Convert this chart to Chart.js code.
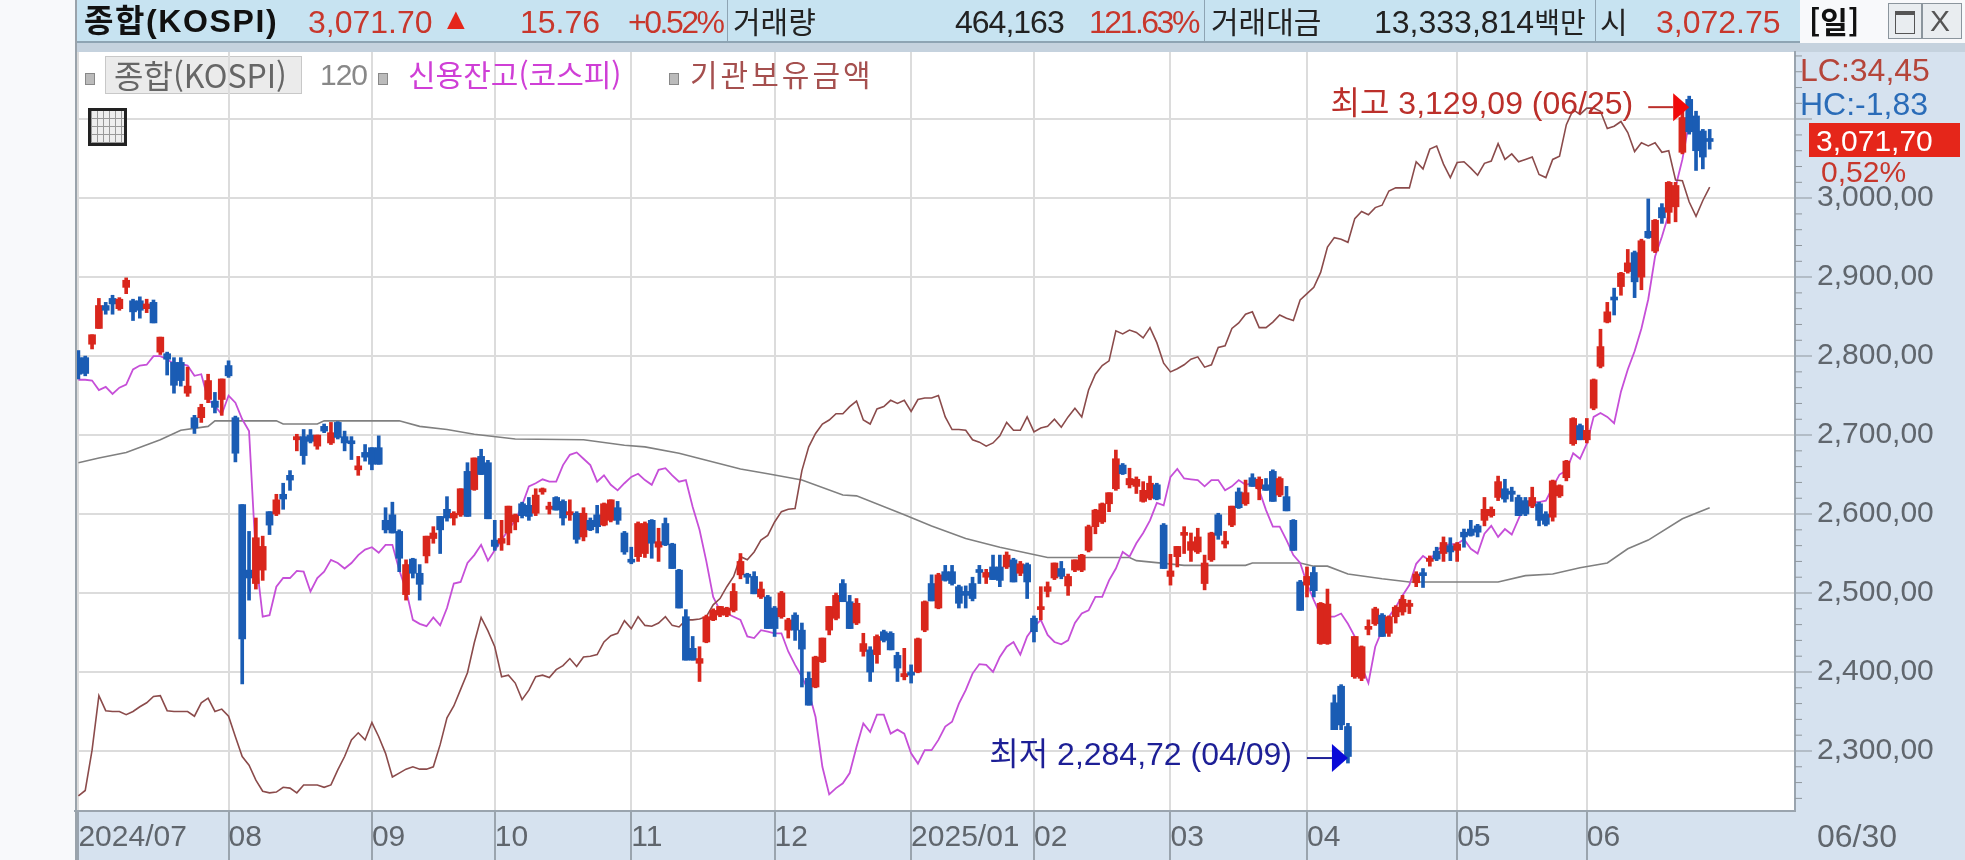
<!DOCTYPE html>
<html lang="ko">
<head>
<meta charset="utf-8">
<title>종합(KOSPI)</title>
<script src="https://cdn.jsdelivr.net/npm/chart.js@4"></script>
<style>
  html, body { margin: 0; padding: 0; background: #f8f9fb; }
  #wrap { position: relative; width: 1965px; height: 860px; overflow: hidden; filter: blur(0.6px); }
  #wrap div, #wrap span { position: absolute; }
  #chart { position: absolute; left: 0; top: 0; z-index: 2; }
  .txt { font-family: "Liberation Sans", "Noto Sans CJK KR", sans-serif; white-space: nowrap; z-index: 3; line-height: 1; }
  .kr { font-family: "Noto Sans CJK KR", sans-serif; }
  #head { left: 76px; top: 0; width: 1724px; height: 41px; background: #c7e3f1; border-bottom: 2px solid #8ea4b3; }
  #band { left: 76px; top: 43px; width: 1889px; height: 9px; background: #c5d2de; }
  #plotBg { left: 76px; top: 52px; width: 1719px; height: 759px; background: #fff; }
  #axisR { left: 1795px; top: 52px; width: 170px; height: 808px; background: #d6e2ef; }
  #axisB { left: 76px; top: 811px; width: 1719px; height: 49px; background: #d6e2ef; }
  #leftLine { left: 75px; top: 0; width: 2px; height: 860px; background: #9aa3ab; z-index: 3; }
  .sep { top: 0; width: 1px; height: 41px; background: #8ea4b3; z-index: 3; }
  .sq { width: 8px; height: 10px; background: #bbb; border: 1px solid #888; top: 73px; z-index: 3; }
  #btn { left: 105px; top: 56px; width: 195px; height: 36px; background: #ebebeb; border: 1px solid #c8c8c8; z-index: 2; }
  #gridIcon { left: 88px; top: 108px; width: 33px; height: 32px; border: 3px solid #222; background: repeating-linear-gradient(90deg, #999 0 1px, transparent 1px 6px), repeating-linear-gradient(0deg, #999 0 1px, #eee 1px 8px); z-index: 3; }
  #priceBox { left: 1809px; top: 123px; width: 151px; height: 34px; background: #e5261a; z-index: 3; }
  .win { top: 3px; height: 34px; background: #e9edf0; border: 1px solid #8b959d; z-index: 3; }
</style>
</head>
<body>
<div id="wrap">
  <div id="head"></div>
  <div id="band"></div>
  <div id="plotBg"></div>
  <div id="axisR"></div>
  <div id="axisB"></div>
  <div id="leftLine"></div>

  <span class="txt" style="left:84px;top:5px;font-size:32px;font-weight:bold;letter-spacing:1.6px;color:#111">종합(KOSPI)</span>
  <span class="txt" style="left:308px;top:6px;font-size:32px;color:#c8372c">3,071.70</span>
  <span class="txt" style="left:441px;top:4px;font-size:30px;color:#e5261a">▲</span>
  <span class="txt" style="left:520px;top:6px;font-size:32px;color:#c8372c">15.76</span>
  <span class="txt" style="left:628px;top:6px;font-size:32px;letter-spacing:-2.5px;color:#c8372c">+0.52%</span>
  <div class="sep" style="left:727px"></div>
  <span class="txt kr" style="left:733px;top:5px;font-size:30px;color:#222">거래량</span>
  <span class="txt" style="left:955px;top:6px;font-size:32px;letter-spacing:-1px;color:#222">464,163</span>
  <span class="txt" style="left:1089px;top:6px;font-size:32px;letter-spacing:-2.5px;color:#c8372c">121.63%</span>
  <div class="sep" style="left:1204px"></div>
  <span class="txt kr" style="left:1211px;top:5px;font-size:30px;color:#222">거래대금</span>
  <span class="txt" style="left:1374px;top:6px;font-size:32px;color:#222">13,333,814<span class="kr" style="position:static;font-size:28px">백만</span></span>
  <div class="sep" style="left:1595px"></div>
  <span class="txt kr" style="left:1600px;top:5px;font-size:30px;color:#222">시</span>
  <span class="txt" style="left:1656px;top:6px;font-size:32px;color:#c8372c">3,072.75</span>
  <span class="txt kr" style="left:1809px;top:5px;font-size:30px;font-weight:bold;color:#111">[일]</span>
  <div class="win" style="left:1888px;width:32px"></div>
  <div class="win" style="left:1922px;width:38px"></div>
  <div style="left:1895px;top:11px;width:18px;height:18px;border:1px solid #555;border-top:4px solid #555;z-index:4"></div>
  <span class="txt" style="left:1930px;top:6px;font-size:30px;color:#555;z-index:4">X</span>

  <div class="sq" style="left:85px"></div>
  <div id="btn"></div>
  <span class="txt kr" style="left:114px;top:58px;font-size:32px;color:#666">종합(KOSPI)</span>
  <span class="txt" style="left:320px;top:60px;font-size:30px;letter-spacing:-1px;color:#888">120</span>
  <div class="sq" style="left:378px"></div>
  <span class="txt kr" style="left:408px;top:58px;font-size:30px;color:#cf3fd6">신용잔고(코스피)</span>
  <div class="sq" style="left:669px"></div>
  <span class="txt kr" style="left:690px;top:58px;font-size:30px;letter-spacing:3px;color:#a5504f">기관보유금액</span>
  <div id="gridIcon"></div>

  <span class="txt" style="left:1800px;top:54px;font-size:32px;color:#b5453a">LC:34,45</span>
  <span class="txt" style="left:1800px;top:88px;font-size:32px;color:#2a6cb8">HC:-1,83</span>
  <div id="priceBox"></div>
  <span class="txt" style="left:1816px;top:126px;font-size:30px;color:#fff">3,071,70</span>
  <span class="txt" style="left:1821px;top:157px;font-size:30px;color:#c8372c">0,52%</span>
  <span class="txt" style="left:1817px;top:820px;font-size:32px;color:#60666d">06/30</span>

  <canvas id="chart" width="1965" height="860"></canvas>
</div>

<script>
// Month ticks on the bottom axis
const monthStarts = [0, 22, 43, 61, 81, 102, 122, 140, 160, 180, 202, 221];
const monthLabels = ["2024/07", "08", "09", "10", "11", "12", "2025/01", "02", "03", "04", "05", "06"];
const priceTicks = [2300, 2400, 2500, 2600, 2700, 2800, 2900, 3000, 3100];
const slotCount = 252; // the right end of the plot stays empty

// Daily candles
const opens = [
  2798,2798,2815,2835,2864,2873,2860,2887,2870,2870, 2860,2868,2805,2803,2792,2792,2753,2722,2722,2745,
  2743,2745,2788,2722,2612,2529,2512,2529,2603,2600, 2625,2649,2694,2698,2700,2686,2711,2690,2716,2698,
  2692,2656,2678,2684,2684,2592,2599,2578,2498,2543, 2525,2547,2569,2597,2606,2595,2599,2654,2631,2673,
  2665,2567,2563,2576,2590,2613,2611,2601,2628,2606, 2621,2616,2599,2601,2571,2592,2599,2586,2592,2608,
  2576,2542,2546,2550,2592,2558,2588,2562,2529,2470, 2430,2411,2438,2466,2472,2472,2478,2523,2523,2521,
  2495,2495,2481,2470,2453,2472,2453,2392,2381,2413, 2453,2468,2512,2489,2462,2426,2428,2422,2451,2449,
  2421,2394,2400,2400,2453,2512,2481,2527,2527,2508, 2502,2512,2529,2520,2533,2533,2533,2542,2525,2536,
  2468,2479,2502,2519,2531,2509,2529,2529,2554,2584, 2590,2613,2632,2662,2637,2635,2616,2620,2637,2586,
  2521,2546,2573,2554,2552,2512,2542,2599,2562,2586, 2628,2613,2646,2632,2637,2654,2624,2622,2592,2514,
  2510,2526,2436,2436,2361,2382,2331,2394,2392,2454, 2461,2472,2449,2470,2476,2483,2513,2524,2540,2553,
  2550,2560,2554,2577,2581,2585,2592,2598,2621,2632, 2629,2621,2617,2610,2613,2600,2596,2623,2646,2689,
  2712,2694,2734,2787,2843,2873,2888,2907,2931,2900, 2958,2933,2988,2982,2989,3058,3125,3104,3085,3072.75
];
const highs = [
  2807,2800,2827,2873,2868,2877,2874,2899,2872,2875, 2872,2871,2824,2805,2798,2798,2786,2725,2739,2777,
  2754,2771,2794,2724,2612,2578,2595,2572,2603,2625, 2639,2655,2701,2707,2707,2700,2714,2716,2717,2705,
  2698,2673,2688,2684,2699,2608,2615,2580,2542,2544, 2536,2572,2584,2597,2622,2603,2632,2665,2671,2682,
  2668,2592,2592,2610,2600,2615,2621,2632,2633,2615, 2622,2618,2618,2603,2608,2595,2611,2614,2618,2616,
  2578,2558,2590,2590,2593,2582,2595,2563,2530,2479, 2445,2432,2472,2480,2483,2482,2512,2550,2525,2527,
  2514,2497,2483,2502,2468,2475,2462,2400,2420,2443, 2483,2500,2517,2497,2493,2449,2432,2447,2453,2451,
  2425,2430,2409,2443,2490,2523,2525,2535,2535,2510, 2509,2520,2535,2530,2548,2548,2552,2544,2540,2538,
  2471,2508,2514,2538,2540,2524,2542,2549,2586,2606, 2614,2627,2681,2664,2658,2647,2641,2648,2639,2588,
  2549,2559,2584,2576,2582,2548,2577,2601,2578,2610, 2633,2643,2651,2647,2645,2656,2647,2635,2593,2516,
  2533,2533,2488,2505,2371,2384,2335,2445,2433,2466, 2482,2474,2471,2484,2497,2491,2527,2531,2547,2558,
  2571,2570,2564,2581,2592,2587,2621,2609,2648,2644, 2634,2624,2621,2634,2615,2603,2643,2637,2668,2722,
  2714,2721,2771,2834,2868,2886,2906,2935,2933,2948, 2999,2973,2993,3021,3020,3112,3129.09,3110,3087,3087
];
const lows = [
  2771,2775,2809,2835,2853,2853,2858,2879,2845,2848, 2855,2842,2802,2776,2753,2762,2749,2702,2716,2741,
  2728,2725,2773,2666,2385,2491,2505,2516,2574,2598, 2606,2630,2680,2663,2690,2682,2703,2688,2695,2680,
  2669,2649,2667,2656,2663,2576,2576,2527,2491,2519, 2491,2538,2563,2550,2591,2586,2597,2597,2630,2650,
  2594,2554,2554,2561,2580,2595,2592,2598,2625,2600, 2605,2586,2592,2563,2566,2579,2576,2585,2590,2587,
  2549,2537,2540,2545,2544,2540,2560,2531,2481,2415, 2415,2388,2437,2465,2470,2470,2476,2518,2512,2499,
  2493,2455,2445,2468,2443,2440,2381,2358,2380,2412, 2447,2466,2489,2455,2460,2420,2388,2411,2438,2428,
  2388,2390,2386,2399,2451,2490,2480,2515,2510,2481, 2481,2490,2512,2512,2517,2508,2531,2514,2522,2493,
  2438,2466,2495,2517,2518,2497,2527,2527,2552,2575, 2588,2603,2630,2650,2633,2626,2615,2618,2618,2531,
  2510,2533,2550,2540,2550,2504,2540,2568,2557,2584, 2607,2611,2635,2618,2630,2616,2622,2604,2554,2478,
  2495,2495,2435,2435,2327,2327,2284.72,2392,2389,2447, 2459,2445,2445,2462,2472,2474,2508,2507,2534,2541,
  2540,2541,2540,2558,2572,2571,2585,2596,2617,2615, 2616,2598,2598,2608,2585,2585,2591,2621,2642,2687,
  2694,2690,2732,2785,2842,2852,2877,2905,2874,2884, 2949,2931,2968,2968,2970,3056,3081,3035,3037,3062
];
const closes = [
  2777,2778,2827,2864,2858,2866,2872,2896,2856,2858, 2866,2842,2824,2796,2763,2769,2762,2709,2735,2769,
  2735,2771,2775,2677,2442,2519,2570,2559,2586,2618, 2619,2643,2698,2674,2692,2700,2705,2703,2697,2690,
  2689,2661,2672,2663,2663,2580,2576,2544,2536,2525, 2511,2572,2576,2580,2595,2601,2632,2597,2671,2650,
  2594,2559,2569,2610,2599,2598,2597,2624,2632,2610, 2605,2595,2603,2568,2601,2580,2584,2613,2618,2592,
  2552,2539,2588,2588,2563,2565,2561,2531,2481,2415, 2415,2417,2470,2478,2483,2481,2502,2540,2520,2499,
  2505,2455,2455,2500,2466,2453,2429,2358,2419,2443, 2483,2497,2489,2455,2487,2436,2400,2445,2440,2428,
  2405,2398,2396,2442,2489,2490,2523,2516,2512,2487, 2497,2493,2526,2526,2517,2516,2548,2514,2537,2514,
  2451,2482,2508,2538,2521,2521,2542,2548,2584,2605, 2613,2627,2670,2651,2645,2644,2630,2639,2619,2531,
  2528,2559,2574,2565,2571,2538,2576,2573,2565,2610, 2608,2627,2635,2644,2630,2616,2645,2604,2554,2478,
  2521,2503,2487,2486,2327,2333,2293,2445,2432,2456, 2480,2445,2470,2482,2492,2486,2524,2522,2544,2543,
  2564,2552,2562,2571,2573,2577,2606,2606,2641,2619, 2625,2598,2600,2621,2592,2587,2642,2636,2667,2721,
  2694,2706,2770,2812,2856,2871,2905,2918,2894,2946, 2950,2972,2975,3020,3016,3102,3084,3060,3052,3071.7
];

// Overlay lines, given in the price scale they are drawn against
const creditBalance = [
  2770,2770,2769,2757,2761,2752,2760,2764,2783,2788, 2789,2800,2800,2796,2790,2790,2788,2775,2777,2745,
  2737,2726,2750,2741,2720,2705,2545,2470,2472,2508, 2519,2519,2528,2527,2502,2519,2527,2542,2538,2531,
  2538,2548,2555,2558,2551,2561,2561,2529,2504,2466, 2461,2458,2469,2459,2481,2512,2514,2538,2548,2561,
  2541,2554,2567,2580,2592,2611,2635,2639,2644,2641, 2641,2662,2675,2678,2670,2662,2641,2649,2637,2630,
  2639,2647,2651,2643,2637,2656,2658,2649,2641,2643, 2609,2580,2540,2495,2478,2474,2470,2466,2445,2443,
  2453,2451,2449,2449,2426,2409,2394,2375,2343,2280, 2245,2253,2259,2272,2305,2335,2324,2346,2346,2322,
  2327,2322,2297,2284,2301,2301,2314,2331,2337,2360, 2377,2398,2410,2409,2400,2419,2432,2438,2422,2445,
  2457,2466,2447,2438,2435,2440,2462,2474,2478,2495, 2495,2516,2531,2552,2546,2563,2576,2592,2614,2611,
  2647,2657,2645,2644,2643,2635,2643,2643,2630,2635, 2643,2637,2639,2630,2605,2584,2584,2567,2548,2538,
  2512,2491,2472,2470,2470,2474,2461,2445,2407,2386, 2432,2453,2470,2482,2497,2510,2537,2547,2541,2554,
  2560,2562,2562,2568,2556,2550,2575,2585,2571,2581, 2574,2594,2613,2615,2615,2617,2634,2650,2655,2677,
  2670,2689,2723,2728,2723,2715,2755,2783,2806,2835, 2872,2926,2951,2980,3014,3049,3097
];
const institutionHoldings = [
  2243,2250,2301,2370,2351,2350,2350,2346,2350,2356, 2361,2369,2370,2351,2350,2350,2350,2344,2361,2367,
  2350,2353,2344,2318,2293,2282,2263,2249,2247,2248, 2254,2253,2247,2257,2257,2257,2254,2257,2276,2293,
  2314,2323,2314,2336,2318,2297,2267,2272,2277,2280, 2277,2277,2280,2308,2342,2357,2378,2399,2437,2469,
  2452,2432,2394,2396,2386,2365,2377,2394,2396,2393, 2403,2408,2417,2407,2419,2420,2422,2438,2446,2449,
  2465,2455,2470,2459,2458,2462,2470,2459,2457,2466, 2466,2467,2470,2485,2493,2508,2521,2546,2542,2552,
  2567,2573,2590,2603,2606,2607,2655,2685,2702,2714, 2719,2727,2727,2736,2743,2719,2714,2733,2736,2744,
  2740,2744,2730,2745,2747,2747,2750,2723,2707,2707, 2706,2694,2691,2686,2690,2699,2716,2706,2706,2723,
  2704,2709,2711,2720,2710,2723,2734,2723,2757,2777, 2788,2794,2832,2828,2833,2830,2823,2836,2817,2791,
  2780,2784,2789,2796,2799,2786,2789,2811,2813,2835, 2842,2853,2856,2836,2836,2843,2852,2848,2845,2871,
  2879,2887,2906,2938,2950,2948,2944,2974,2983,2979, 2988,2991,3009,3013,3013,3013,3046,3037,3062,3066,
  3043,3026,3045,3046,3038,3029,3044,3047,3069,3049, 3056,3046,3049,3052,3030,3026,3049,3053,3093,3112,
  3106,3114,3114,3110,3088,3091,3097,3083,3059,3070, 3066,3070,3058,3060,3023,3022,2995,2977,2997,3014
];

// 120 day average, smooth enough to read at its bends only
const maDays = [0,3,7,12,15,19,20,24,29,30,35,36,47,50,54,58,64,74,80,83,88,97,101,106,112,114,121,125,130,135,142,154,155,162,171,172,179,181,183,186,191,195,208,212,216,220,224,227,230,235,239];
const maValues = [2665,2671,2678,2694,2706,2711,2718,2718,2718,2714,2714,2718,2718,2711,2707,2701,2695,2694,2687,2685,2677,2657,2651,2643,2624,2623,2599,2585,2569,2558,2545,2545,2541,2535,2535,2538,2538,2534,2534,2524,2518,2514,2514,2522,2524,2532,2538,2556,2567,2594,2608];

// High and low markers
const highMark = { index: 236, value: 3129.09, text: "최고 3,129,09 (06/25)" };
const lowMark = { index: 186, value: 2284.72, text: "최저 2,284,72 (04/09)" };

const RED = "#d9261c";
const BLUE = "#1a5cb4";

const slotLabels = Array(slotCount).fill("");
monthStarts.forEach((start, i) => { slotLabels[start] = monthLabels[i]; });

const candleColors = closes.map((c, i) => (c >= opens[i] ? RED : BLUE));
const wicks = lows.map((l, i) => [l, highs[i]]);
const bodies = opens.map((o, i) => [o, closes[i]]);

const maLine = Array(closes.length).fill(null);
maDays.forEach((day, i) => { maLine[day] = maValues[i]; });

// Draws the arrows and texts of the high and low, and the short axis ticks
const markerPlugin = {
  id: "markers",
  afterDraw(chart) {
    const { ctx } = chart;
    const x = chart.scales.x;
    const y = chart.scales.y;

    ctx.save();
    ctx.strokeStyle = "#8f979e";
    ctx.lineWidth = 1;
    for (let v = 2240; v <= 3180; v += 20) {
      if (v % 100 === 0) continue;
      const py = y.getPixelForValue(v);
      ctx.beginPath();
      ctx.moveTo(y.left, py);
      ctx.lineTo(y.left + 7, py);
      ctx.stroke();
    }

    drawMark(ctx, x.getPixelForValue(highMark.index), y.getPixelForValue(highMark.value) + 11, highMark.text, "#bb2f2a", "#f00a0a");
    drawMark(ctx, x.getPixelForValue(lowMark.index), y.getPixelForValue(lowMark.value) - 5, lowMark.text, "#1d1f96", "#0a0ad8");
    ctx.restore();
  }
};

function drawMark(ctx, tipX, tipY, text, textColor, arrowColor) {
  ctx.fillStyle = arrowColor;
  ctx.beginPath();
  ctx.moveTo(tipX, tipY);
  ctx.lineTo(tipX - 16, tipY - 14);
  ctx.lineTo(tipX - 16, tipY + 14);
  ctx.closePath();
  ctx.fill();

  ctx.strokeStyle = textColor;
  ctx.lineWidth = 2;
  ctx.beginPath();
  ctx.moveTo(tipX - 16, tipY);
  ctx.lineTo(tipX - 41, tipY);
  ctx.stroke();

  ctx.fillStyle = textColor;
  ctx.font = '32px "Liberation Sans", "Noto Sans CJK KR", sans-serif';
  ctx.textAlign = "right";
  ctx.textBaseline = "middle";
  ctx.fillText(text, tipX - 56, tipY - 2);
}

new Chart(document.getElementById("chart").getContext("2d"), {
  data: {
    labels: slotLabels,
    datasets: [
      { type: "bar", label: "고저", data: wicks, backgroundColor: candleColors, barThickness: 3, grouped: false, order: 2 },
      { type: "bar", label: "종합(KOSPI)", data: bodies, backgroundColor: candleColors, barThickness: 7, minBarLength: 3, grouped: false, order: 1 },
      { type: "line", label: "120", data: maLine, borderColor: "#808080", borderWidth: 1.6, pointRadius: 0, spanGaps: true, order: 5 },
      { type: "line", label: "신용잔고(코스피)", data: creditBalance, borderColor: "#c64fd8", borderWidth: 1.8, pointRadius: 0, order: 4 },
      { type: "line", label: "기관보유금액", data: institutionHoldings, borderColor: "#8b4b4b", borderWidth: 1.6, pointRadius: 0, order: 3 }
    ]
  },
  options: {
    responsive: false,
    animation: false,
    layout: { padding: { left: 75, top: 52, right: 0, bottom: 0 } },
    plugins: { legend: { display: false }, tooltip: { enabled: false } },
    scales: {
      x: {
        offset: true,
        afterFit: s => { s.height = 49; },
        afterBuildTicks: s => { s.ticks = monthStarts.map(v => ({ value: v })); },
        grid: { offset: false, color: "#dcdcdc", lineWidth: 2, tickColor: "#9aa4ae", tickWidth: 2, tickLength: 49 },
        border: { color: "#9aa4ae", width: 2 },
        ticks: {
          autoSkip: false,
          maxRotation: 0,
          align: "start",
          padding: -40,
          color: "#60666d",
          font: { family: '"Liberation Sans", sans-serif', size: 30 }
        }
      },
      y: {
        position: "right",
        min: 2224,
        max: 3185,
        afterFit: s => { s.width = 170; },
        afterBuildTicks: s => { s.ticks = priceTicks.map(v => ({ value: v })); },
        grid: { color: "#dcdcdc", lineWidth: 2, tickColor: "#8f979e", tickWidth: 1, tickLength: 17 },
        border: { color: "#9aa4ae", width: 2 },
        ticks: {
          padding: 5,
          color: "#60666d",
          font: { family: '"Liberation Sans", sans-serif', size: 30 },
          // the 3,100 label sits under the price box in the picture
          callback: v => (v === 3100 ? "" : v.toLocaleString("en-US") + ",00")
        }
      }
    }
  },
  plugins: [markerPlugin]
});
</script>
</body>
</html>
